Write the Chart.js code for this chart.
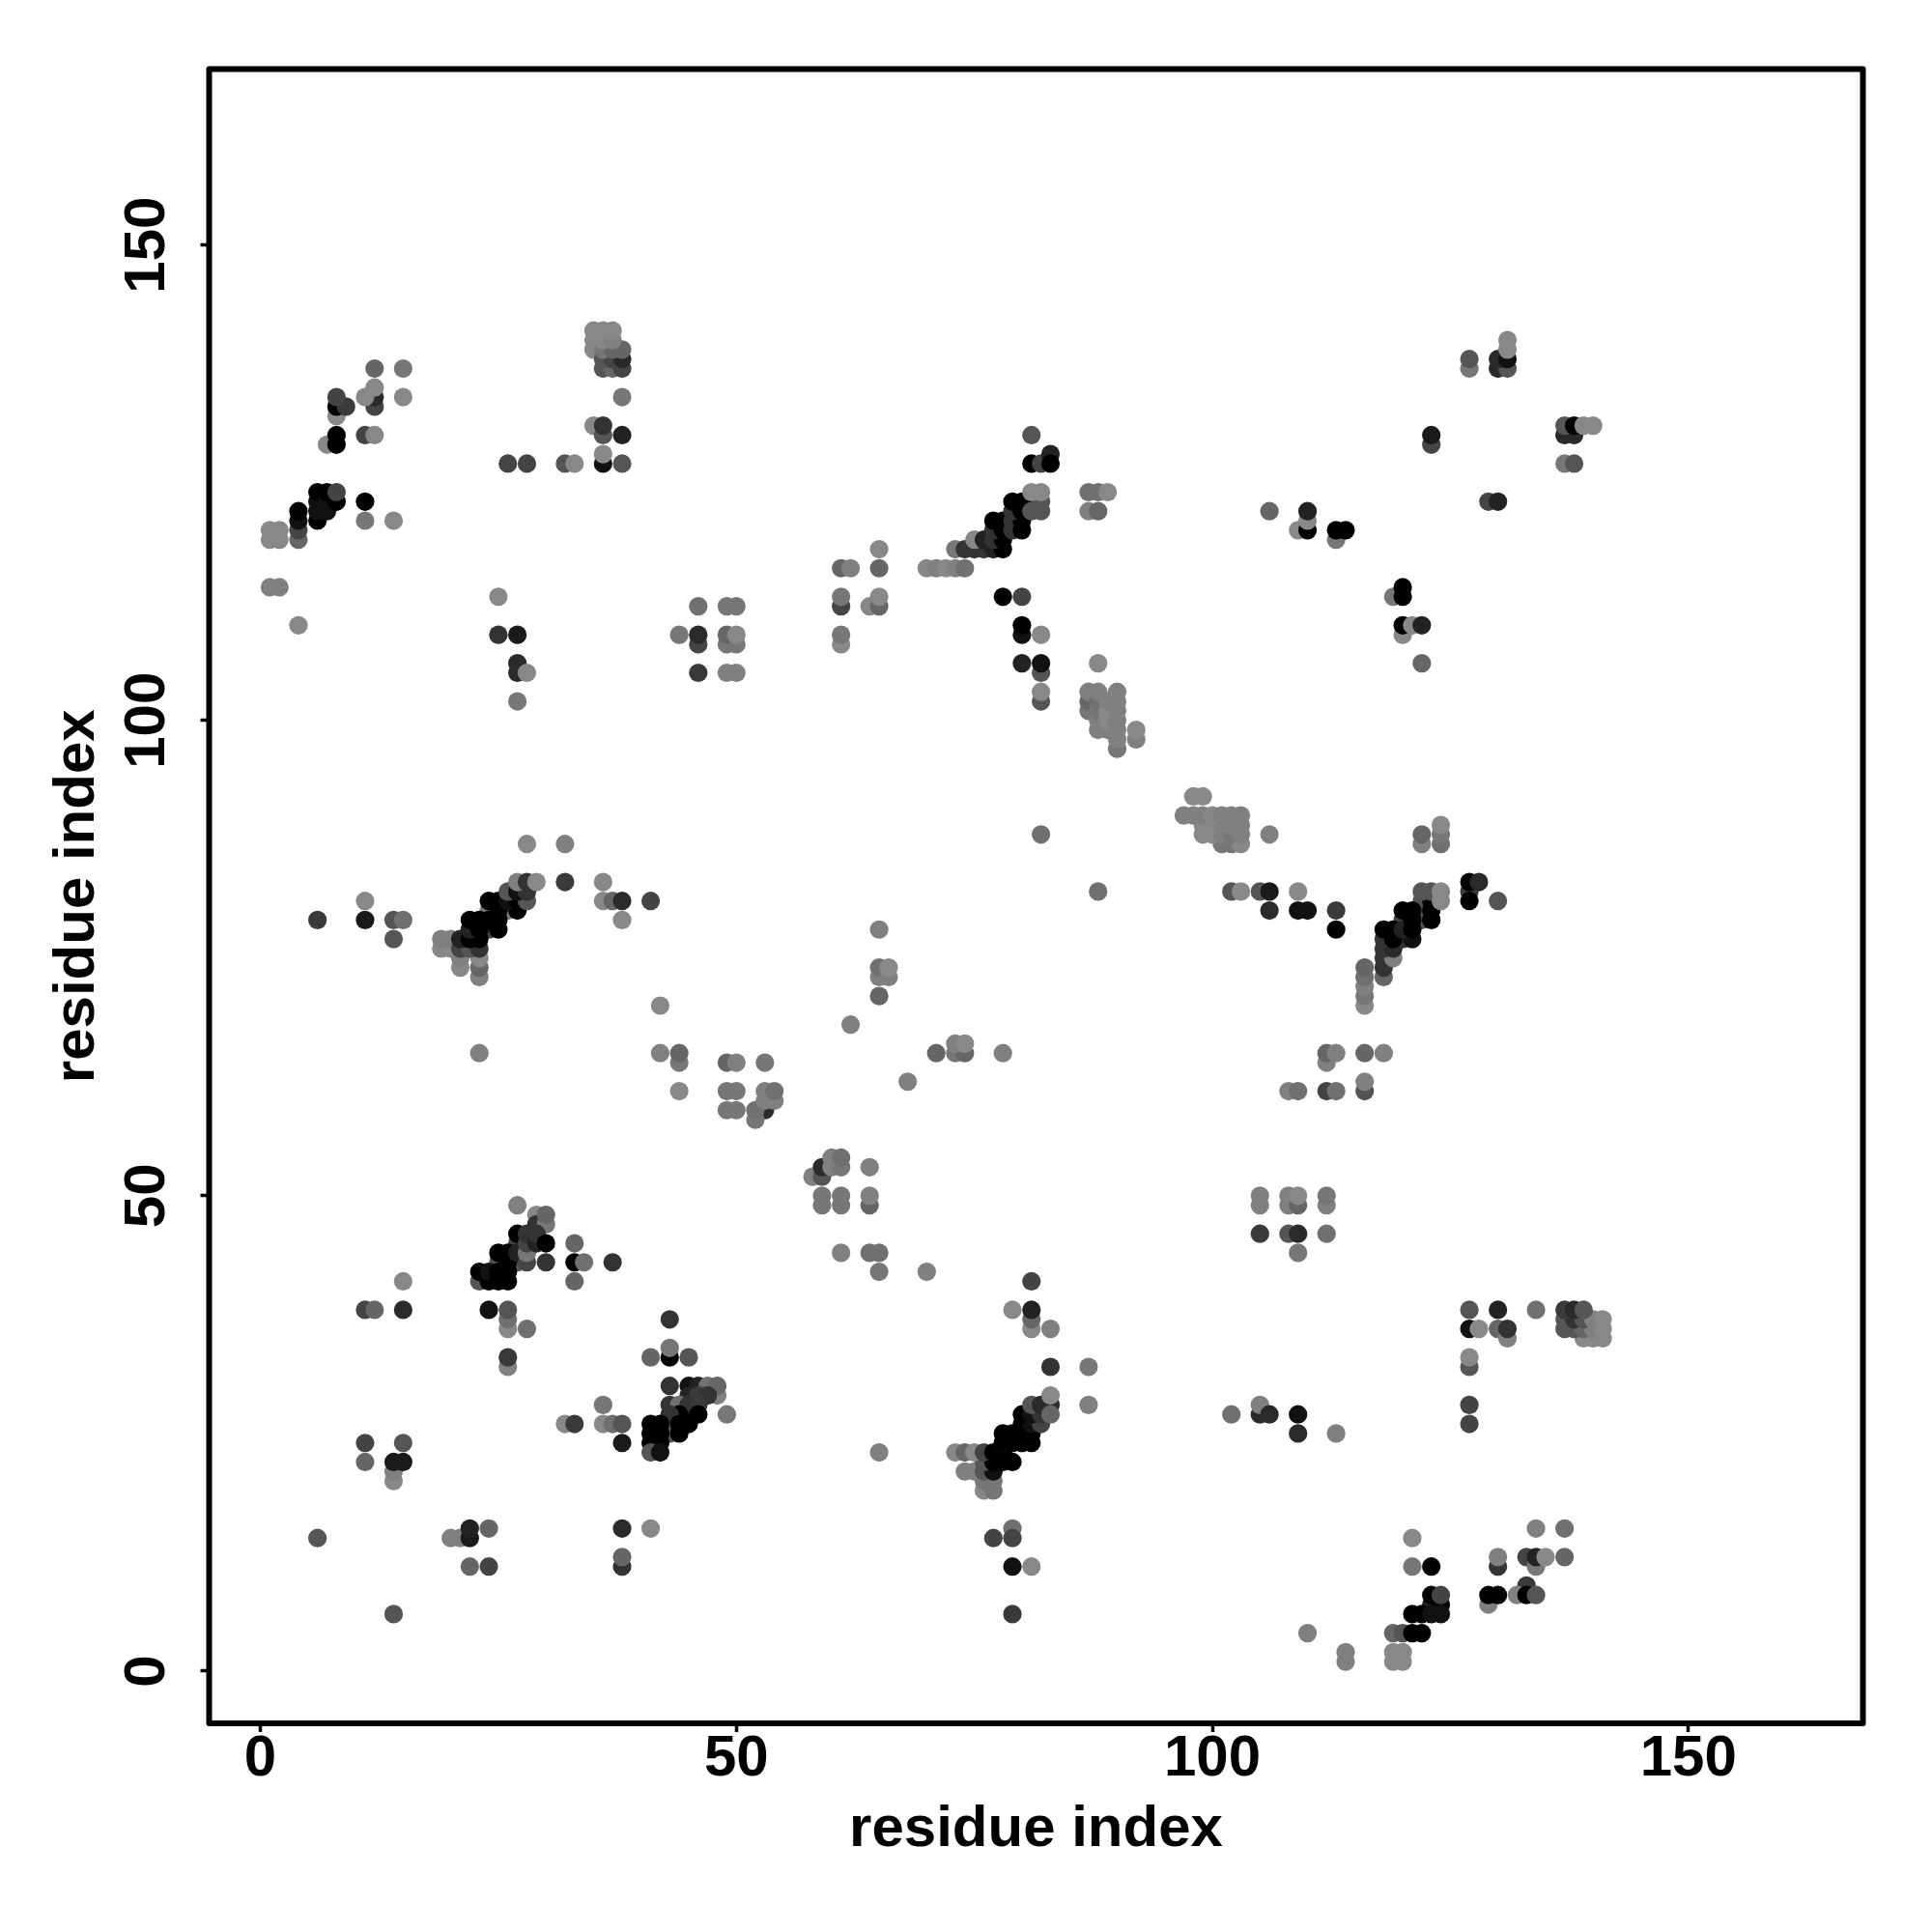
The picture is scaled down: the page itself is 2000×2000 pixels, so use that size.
<!DOCTYPE html>
<html>
<head>
<meta charset="utf-8">
<title>residue contacts</title>
<script src="https://cdn.jsdelivr.net/npm/chart.js@4"></script>
<style>
  body { margin: 0; background: #fff; }
  canvas { display: block; }
</style>
</head>
<body>
<canvas id="contactChart" width="2000" height="2000"></canvas>
<script>
const tickValues = [0, 50, 100, 150];
const axisTitle = 'residue index';

// one contact per position across the three lists, drawn in this order
const residueX = [
  12,15,15,12,12,11,12,
  8,8,9,8,7,8,8,11,12,
  1,2,1,2,4,4,4,4,6,6,6,6,7,7,7,8,8,11,11,14,
  1,2,4,25,25,27,27,27,28,27,
  26,28,32,33,36,36,38,35,36,36,38,38,
  35,35,35,36,37,38,36,37,38,36,37,38,36,37,36,37,
  46,44,46,46,46,49,50,49,50,49,50,49,50,
  61,62,65,65,61,61,64,65,65,61,61,
  70,71,72,73,74,
  73,74,75,76,77,78,75,76,77,78,77,78,77,78,79,79,80,80,79,80,79,80,81,81,82,82,81,82,
  81,81,82,83,83,
  87,88,89,87,88,
  78,80,80,80,82,80,82,82,82,82,
  87,87,87,88,88,88,88,88,89,89,89,89,90,90,90,90,90,90,90,92,92,88,
  127,127,130,131,130,131,131,131,
  123,123,137,138,137,138,139,140,137,138,129,130,
  106,109,110,110,110,113,113,114,119,120,120,120,120,121,122,122,
  28,32,32,36,36,37,38,41,38,11,6,11,14,15,14,
  24,26,24,19,20,19,20,23,23,23,21,21,21,22,23,21,22,23,22,23,25,22,23,24,25,25,27,24,25,26,27,28,26,27,28,27,28,29,
  23,42,42,44,44,44,
  82,88,65,65,65,65,66,66,62,68,71,73,74,73,74,78,
  49,50,53,49,50,49,50,53,52,52,53,54,53,54,
  58,59,59,60,61,60,61,64,59,59,61,61,64,64,
  61,64,65,65,70,
  81,79,81,81,81,83,83,87,87,
  76,77,76,77,74,75,76,77,76,77,78,79,73,74,75,76,77,78,78,80,78,79,80,81,80,81,78,79,
  80,81,82,80,81,82,81,82,83,83,83,
  65,79,79,77,79,81,79,
  27,29,29,30,30,
  25,27,27,23,23,24,24,25,25,26,26,25,26,26,27,27,28,28,28,28,29,29,30,30,33,34,33,37,33,15,
  11,12,15,24,26,26,26,28,26,26,43,
  43,43,41,43,43,45,
  43,45,46,47,48,48,49,45,46,47,43,44,45,46,45,46,44,43,41,42,44,45,41,42,44,41,42,41,42,
  32,33,36,36,37,38,38,
  11,15,11,14,14,14,15,
  6,20,21,22,22,24,38,41,22,24,38,38,14,
  98,99,
  101,102,103,99,100,101,102,103,99,100,101,102,103,97,98,99,100,101,102,103,106,
  124,124,124,122,122,
  127,127,128,127,130,102,103,105,106,109,106,109,110,113,113,
  116,116,116,116,116,118,118,118,119,118,119,118,120,119,121,120,122,122,122,118,119,120,121,121,120,121,123,123,123,122,123,124,124,
  112,112,113,116,118,116,116,108,109,112,113,
  105,105,108,108,109,109,112,112,105,108,109,112,109,
  127,130,134,127,128,130,131,131,127,127,127,127,
  139,140,141,137,138,139,140,141,137,138,139,140,141,137,138,139,
  105,105,106,102,109,109,113,
  134,137,121,130,130,133,134,134,135,137,121,123,
  133,129,129,130,132,133,134,
  123,124,123,124,121,122,123,124,
  110,119,120,121,122,114,114,119,120,119,120
];

const residueY = [
  137,137,134,133,134,134,135,
  132,133,133,134,129,129,130,130,130,
  119,119,120,120,119,120,121,122,121,122,123,124,122,123,124,123,124,123,121,121,
  114,114,110,113,109,109,106,105,105,102,
  127,127,127,127,127,128,127,131,130,131,130,134,
  139,140,141,137,137,137,138,138,138,139,139,139,140,140,141,141,
  112,109,108,109,105,112,112,108,108,109,109,105,105,
  116,116,116,118,112,113,112,112,113,108,109,
  116,116,116,116,116,
  118,118,118,118,118,118,119,119,119,119,120,120,121,121,120,121,120,121,122,122,123,123,123,122,122,123,124,124,
  130,127,127,128,127,
  124,124,124,122,122,
  113,113,109,110,109,106,105,106,102,103,
  101,102,103,99,100,101,102,103,99,100,101,102,97,98,99,100,101,102,103,98,99,106,
  137,138,137,137,138,138,139,140,
  129,130,130,130,131,131,131,131,127,127,123,123,
  122,120,120,121,122,119,120,120,113,113,114,109,110,110,110,106,
  87,87,83,83,81,81,81,81,79,81,79,79,79,79,77,
  80,80,78,76,76,77,77,73,74,75,74,75,76,76,76,77,77,77,78,78,78,79,79,79,79,80,80,81,81,81,81,81,82,82,82,83,83,83,
  65,70,65,64,65,61,
  88,82,78,71,73,74,73,74,68,62,65,65,65,66,66,65,
  64,64,64,61,61,59,59,59,58,59,60,60,61,61,
  52,52,53,53,53,54,54,53,49,50,49,50,49,50,
  44,44,44,42,42,
  41,38,36,37,38,36,32,32,28,
  19,19,20,20,21,21,21,21,22,22,22,22,23,23,23,23,23,23,24,24,24,24,24,24,25,25,25,25,
  26,26,26,27,27,27,28,28,28,27,29,
  23,15,14,14,11,11,6,
  49,48,47,47,48,
  43,43,45,41,42,41,42,41,42,41,42,44,43,44,44,46,43,44,45,46,45,46,45,43,43,43,45,43,41,41,
  38,38,38,38,36,37,38,36,32,33,37,
  26,25,33,33,34,33,
  30,30,30,30,29,30,27,29,29,29,28,28,28,28,27,27,27,27,26,26,26,26,25,25,25,24,24,23,23,
  26,26,28,26,26,26,24,
  24,24,22,20,21,22,22,
  14,14,14,14,15,15,15,15,11,11,11,12,6,
  92,92,
  87,87,87,88,88,88,88,88,89,89,89,89,89,90,90,90,90,90,90,90,88,
  87,88,89,87,88,
  82,83,83,81,81,82,82,82,82,82,80,80,80,80,78,
  70,71,72,73,74,73,74,75,75,76,76,77,77,77,77,79,79,80,81,78,78,78,78,79,80,80,79,80,81,82,82,81,82,
  64,65,65,65,65,61,62,61,61,61,61,
  49,50,49,50,49,50,49,50,46,46,46,46,44,
  38,38,38,36,36,36,35,36,32,33,28,26,
  35,35,35,36,36,36,36,36,37,37,37,37,37,38,38,38,
  27,28,27,27,27,25,25,
  15,15,14,11,12,12,11,12,12,12,11,11,
  9,7,8,8,8,8,8,
  7,7,8,8,6,6,6,6,
  4,4,4,4,4,1,2,1,1,2,2
];

// grey level of each contact, 0 is black
const shade = [
  102,119,136,68,42,136,136,
  136,0,58,68,136,0,0,68,136,
  136,136,136,136,102,68,17,0,0,17,17,0,17,17,0,0,68,0,119,136,
  128,128,136,136,51,26,42,42,136,119,
  68,68,85,136,17,136,85,136,85,51,34,119,
  136,136,136,85,102,68,85,68,42,119,102,102,136,128,136,136,
  112,119,68,42,58,119,119,119,119,102,136,128,128,
  102,128,102,136,68,119,136,102,136,136,119,
  136,128,136,128,112,
  119,51,51,51,34,0,136,34,51,0,51,0,0,0,51,51,0,0,51,0,0,0,0,85,85,85,136,136,
  85,0,68,34,0,
  112,112,136,128,102,
  0,68,17,0,136,34,85,17,85,136,
  119,102,128,128,128,119,112,128,128,136,136,128,119,128,128,128,128,128,128,128,136,136,
  119,85,42,85,42,17,136,136,
  68,26,42,42,85,0,136,136,119,85,68,34,
  102,136,0,136,34,119,0,0,119,0,0,136,0,136,34,102,
  136,128,58,136,136,102,42,68,136,136,58,26,85,112,85,
  119,119,68,136,136,128,128,128,102,136,136,128,68,85,51,34,0,0,34,0,0,0,0,0,0,0,0,0,0,17,0,85,85,17,51,128,51,136,
  128,136,128,119,102,136,
  112,112,128,102,128,112,128,136,128,128,102,119,102,128,136,128,
  102,128,119,119,119,119,119,42,119,112,128,128,128,112,
  128,85,42,128,119,128,112,128,119,119,119,119,102,128,
  128,112,112,119,128,
  68,136,136,102,34,128,51,119,128,
  136,119,119,119,128,128,85,17,85,0,0,0,136,102,136,68,0,0,68,119,0,0,0,0,0,0,0,0,
  0,17,68,0,17,51,85,42,42,102,136,
  128,112,68,68,17,136,58,
  128,136,51,119,102,
  85,85,68,85,0,0,17,0,0,0,0,0,0,0,34,0,68,119,68,51,34,51,0,51,0,112,102,51,102,136,
  68,102,42,17,136,112,85,112,128,58,51,
  85,85,102,0,119,85,
  51,17,34,112,128,102,119,34,58,51,51,112,51,58,51,0,0,51,0,0,0,0,0,0,0,0,0,85,17,
  136,58,119,136,112,85,26,
  68,85,102,136,128,26,26,
  85,128,128,26,34,102,42,136,102,68,51,102,85,
  136,136,
  119,119,136,136,136,128,119,128,136,136,128,128,128,128,128,128,136,128,128,128,128,
  112,119,136,128,102,
  58,0,42,0,85,85,136,85,26,136,42,17,17,58,0,
  136,119,128,112,102,102,51,51,128,51,42,51,51,0,17,68,85,85,85,0,0,34,0,0,0,0,0,0,0,85,85,136,136,
  128,102,128,102,128,85,128,128,112,68,112,
  128,128,128,128,102,136,128,119,58,85,42,112,119,
  85,34,112,17,136,102,128,51,85,136,68,68,
  136,136,136,85,85,102,128,136,85,51,85,128,136,58,42,85,
  42,128,42,112,17,42,128,
  128,112,136,51,128,68,119,34,136,102,119,0,
  58,128,0,0,128,0,85,
  34,0,0,68,0,0,17,17,
  128,102,85,0,0,128,128,136,136,136,136
];

if (residueX.length !== residueY.length || residueX.length !== shade.length) {
  throw new Error('lists differ: ' + residueX.length + ' ' + residueY.length + ' ' + shade.length);
}

// R style box round the plot
const framePlugin = {
  id: 'frame',
  afterDraw(chart) {
    const { left, top, width, height } = chart.chartArea;
    const ctx = chart.ctx;
    ctx.save();
    ctx.strokeStyle = '#000';
    ctx.lineWidth = 6;
    ctx.lineJoin = 'round';
    ctx.strokeRect(left, top, width, height);
    ctx.restore();
  }
};

const labelFont = { family: '"Liberation Sans"', size: 60, weight: 'bold' };

function setTicks(scale) {
  scale.ticks = tickValues.map(v => ({ value: v }));
}

new Chart(document.getElementById('contactChart'), {
  type: 'scatter',
  data: {
    datasets: [{
      data: residueX.map((x, i) => ({ x: x, y: residueY[i] })),
      pointBackgroundColor: shade.map(g => 'rgb(' + g + ',' + g + ',' + g + ')'),
      pointBorderWidth: 0,
      pointRadius: 9.6
    }]
  },
  options: {
    responsive: false,
    animation: false,
    layout: { padding: { top: 71.5, right: 71.5, left: 0, bottom: 0 } },
    plugins: { legend: { display: false }, tooltip: { enabled: false } },
    scales: {
      x: {
        type: 'linear',
        min: -5.38,
        max: 168.34,
        afterBuildTicks: setTicks,
        afterFit(scale) { scale.height = 216; },
        border: { display: false },
        grid: { drawOnChartArea: false, color: '#000', tickLength: 9, tickWidth: 3.5 },
        ticks: { color: '#000', font: labelFont, padding: -8, maxRotation: 0, minRotation: 0, autoSkip: false },
        title: { display: true, text: axisTitle, color: '#000', font: labelFont, padding: { top: 0, bottom: 70 } }
      },
      y: {
        type: 'linear',
        min: -5.49,
        max: 168.5,
        afterBuildTicks: setTicks,
        afterFit(scale) { scale.width = 216.5; },
        border: { display: false },
        grid: { drawOnChartArea: false, color: '#000', tickLength: 9, tickWidth: 3.5 },
        ticks: { color: '#000', font: labelFont, padding: 4, minRotation: 90, maxRotation: 90, autoSkip: false, crossAlign: 'center' },
        title: { display: true, text: axisTitle, color: '#000', font: labelFont, padding: { top: 44.5, bottom: 0 } }
      }
    }
  },
  plugins: [framePlugin]
});
</script>
</body>
</html>
